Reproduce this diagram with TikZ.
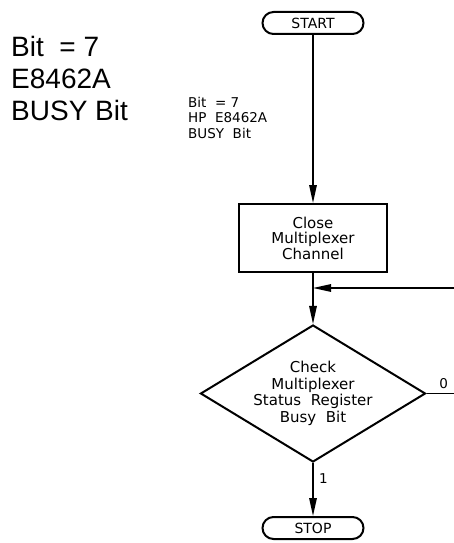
\documentclass[tikz,border=0pt]{standalone}
\usepackage{fontspec}
\setmainfont{Liberation Sans}
\newfontfamily\cadfont{DejaVu Sans}
\usetikzlibrary{arrows.meta,shapes.geometric,shapes.misc}

\begin{document}
\begin{tikzpicture}[x=1pt,y=-1pt,
        terminal/.style={draw, line width=2pt, rounded rectangle, minimum width=101pt, minimum height=22pt, inner sep=0pt, font=\cadfont\fontsize{14}{16}\selectfont},
        process/.style={draw, line width=2pt, rectangle, minimum width=148pt, minimum height=68pt, inner sep=0pt, align=center, font=\cadfont\fontsize{15}{15.5}\selectfont},
        decision/.style={draw, line width=2pt, diamond, shape aspect=1.64, minimum width=225pt, minimum height=137pt, inner sep=0pt, align=center, font=\cadfont\fontsize{15}{16.5}\selectfont},
        flow/.style={line width=1.5pt, -{Triangle[length=18pt,width=7.5pt]}},
        note/.style={font=\cadfont\fontsize{13.5}{15.5}\selectfont}]
        \useasboundingbox (0,0) rectangle (454,543);

        % Big note on the left
        \node[anchor=north west, align=left, inner sep=0pt, font=\fontsize{28}{32}\selectfont] (bignote) at (11,36) {Bit\ \ = 7\\E8462A\\BUSY Bit};

        % Flow chart
        \node[terminal] (start) at (313,23) {START};
        \node[process] (close) at (313,238) {Close\\Multiplexer\\Channel};
        \node[decision] (check) at (313,393.5) {Check\\Multiplexer\\Status\ \ Register\\Busy\ \ Bit};
        \node[terminal] (stop) at (313,528) {STOP};

        % Small note beside the line
        \node[note, anchor=north west, align=left, inner sep=0pt] (bitnote) at (188,97) {Bit\ \ =\ 7\\HP\ \ E8462A\\BUSY\ \ Bit};

        % Connectors
        \coordinate (join) at (313,288);
        \coordinate (loopin) at (454,288);
        \coordinate (loopout) at (454,393.5);
        \draw[flow] (start) -- (close);
        \draw[line width=1.5pt] (close) -- (join);
        \draw[flow] (join) -- (check);
        \draw[flow] (loopin) -- (join);
        \draw[line width=1.5pt] (check.east) -- (loopout) node[note, pos=0.62, above=1pt] (zero) {0};
        \draw[flow] (check.south) -- (stop.north) node[note, pos=0.3, right=2pt] (one) {1};
\end{tikzpicture}
\end{document}
